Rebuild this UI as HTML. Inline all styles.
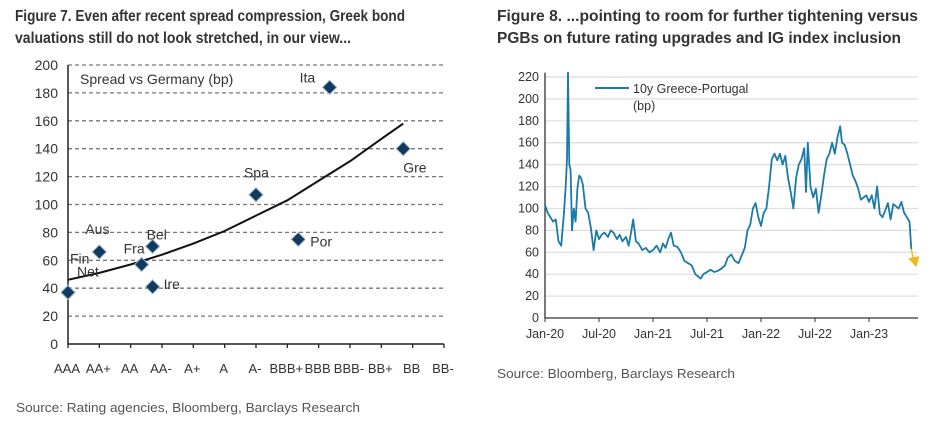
<!DOCTYPE html>
<html><head><meta charset="utf-8"><style>
body{margin:0;background:#fff;width:932px;height:426px;overflow:hidden}
svg{font-family:"Liberation Sans Narrow","Liberation Sans",sans-serif}
</style></head><body>
<svg id="s" width="932" height="426" viewBox="0 0 932 426" xmlns="http://www.w3.org/2000/svg">
<g fill="#333" font-weight="bold" font-size="16">
<text x="15" y="21" textLength="390" lengthAdjust="spacingAndGlyphs">Figure 7. Even after recent spread compression, Greek bond</text>
<text x="15" y="43" textLength="336" lengthAdjust="spacingAndGlyphs">valuations still do not look stretched, in our view...</text>
<text x="497" y="21" textLength="421" lengthAdjust="spacingAndGlyphs">Figure 8. ...pointing to room for further tightening versus</text>
<text x="497" y="43" textLength="404" lengthAdjust="spacingAndGlyphs">PGBs on future rating upgrades and IG index inclusion</text>
</g>
<g fill="#555" font-size="13">
<text x="16" y="412" textLength="344" lengthAdjust="spacingAndGlyphs">Source: Rating agencies, Bloomberg, Barclays Research</text>
<text x="497" y="378" textLength="238" lengthAdjust="spacingAndGlyphs">Source: Bloomberg, Barclays Research</text>
</g>
<g id="left"></g>
<g id="right"></g>
</svg>
<script>
const ratings=["AAA","AA+","AA","AA-","A+","A","A-","BBB+","BBB","BBB-","BB+","BB","BB-"];
const yTicksL=[0,20,40,60,80,100,120,140,160,180,200];
const countries=["Net","Fin","Aus","Fra","Bel","Ire","Spa","Por","Ita","Gre"];
const countryRating=[0,0,1,2.35,2.7,2.7,6,7.35,8.35,10.7];
const countrySpread=[37,37,66,57,70,41,107,75,184,140];
const fitX=[0,1,2,3,4,5,6,7,8,9,10,10.7];
const fitY=[46,51,57,64,72,81,92,103,117,131,147,158];
const yTicksR=[0,20,40,60,80,100,120,140,160,180,200,220];
const xLabelsR=["Jan-20","Jul-20","Jan-21","Jul-21","Jan-22","Jul-22","Jan-23"];
const months=[0,0.3,0.6,0.9,1.2,1.5,1.8,2.1,2.3,2.45,2.55,2.7,2.85,3,3.2,3.4,3.6,3.8,4,4.2,4.5,4.8,5.1,5.4,5.7,6,6.3,6.6,7,7.3,7.6,8,8.3,8.6,9,9.3,9.6,9.8,10.1,10.4,10.8,11.2,11.6,12,12.4,12.8,13.1,13.4,13.7,14,14.3,14.7,15.1,15.5,15.9,16.3,16.7,17,17.3,17.6,18,18.4,18.8,19.2,19.6,20,20.3,20.7,21.1,21.5,21.9,22.2,22.5,22.8,23.1,23.4,23.7,24,24.3,24.6,24.9,25.2,25.5,25.8,26.1,26.4,26.7,27,27.3,27.6,27.9,28.2,28.5,28.8,29,29.2,29.5,29.8,30.1,30.4,30.7,31,31.3,31.6,31.9,32.2,32.5,32.8,33,33.3,33.6,33.9,34.2,34.5,34.8,35.1,35.4,35.7,36,36.3,36.6,36.9,37.2,37.5,37.8,38.1,38.4,38.7,39,39.3,39.6,39.9,40.2,40.5,40.7];
const spreadGP=[103,96,92,88,90,70,66,95,120,145,225,140,135,80,100,88,118,130,128,122,100,96,82,62,80,72,76,78,74,80,78,72,76,70,74,66,80,90,70,68,62,64,60,62,66,60,68,64,72,78,66,65,60,52,50,48,40,38,36,40,42,44,42,43,45,48,55,58,52,50,58,64,80,85,100,105,92,84,96,100,120,145,150,144,150,140,148,128,115,100,128,140,145,155,115,160,120,110,118,96,112,130,145,150,160,150,165,175,160,158,150,140,130,125,118,108,110,112,106,112,100,120,95,92,98,105,90,104,102,100,106,96,92,88,63,58];

const NS="http://www.w3.org/2000/svg";
function mk(parent,tag,attrs,text){const e=document.createElementNS(NS,tag);for(const k in attrs)e.setAttribute(k,attrs[k]);if(text!==undefined)e.textContent=text;parent.appendChild(e);return e;}

// Left chart
const L=document.getElementById('left');
const lx0=68,lstep=31.33,ly0=344,lyk=(344-65)/200;
const lxs=i=>lx0+i*lstep, lys=v=>ly0-v*lyk;
yTicksL.forEach(v=>{
 if(v>0){const g=mk(L,'line',{x1:lx0,x2:lxs(12),y1:lys(v),y2:lys(v),stroke:'#777','stroke-dasharray':'4,3','stroke-width':1.3});
 
 }
 const t=mk(L,'text',{x:lx0-10,y:lys(v)+5,'text-anchor':'end','font-size':14,fill:'#333'},v);
 
 
});
const ax=mk(L,'path',{d:`M${lx0},${lys(200)}V${ly0}H${lxs(12)}`,stroke:'#222','stroke-width':1.5,fill:'none'});


ratings.forEach((r,i)=>{
 mk(L,'line',{x1:lxs(i),x2:lxs(i),y1:ly0,y2:ly0+4,stroke:'#222','stroke-width':1.3});
 const t=mk(L,'text',{x:lxs(i)-1,y:373,'text-anchor':'middle','font-size':13,fill:'#333'},r);
 
 
});
const lt=mk(L,'text',{x:80,y:84,'font-size':14,fill:'#333'},'Spread vs Germany (bp)');


const fit=mk(L,'path',{d:fitX.map((x,i)=>(i?'L':'M')+lxs(x)+','+lys(fitY[i])).join(''),stroke:'#111','stroke-width':2,fill:'none'});


const labOff={Net:[9,-21],Fin:[2,-34],Aus:[-14,-23],Fra:[-18,-16],Bel:[-6,-12],Ire:[11,-3],Spa:[-12,-22],Por:[12,2],Ita:[-30,-10],Gre:[0,19]};
countries.forEach((c,i)=>{
 const x=lxs(countryRating[i]),y=lys(countrySpread[i]);
 const d=mk(L,'path',{d:`M${x},${y-7}L${x+7},${y}L${x},${y+7}L${x-7},${y}Z`,fill:'#123a5e',stroke:'#9fb8d0','stroke-width':1});
 
 
 const o=labOff[c];
 const t=mk(L,'text',{x:x+o[0],y:y+o[1]+5,'font-size':14,fill:'#333'},c);
 
 
});

// Right chart
const R=document.getElementById('right');
const rx0=545,rxk=9.0,ry0=318,ryk=(318-77)/220,rx1=918;
const rxs=m=>rx0+m*rxk, rys=v=>ry0-v*ryk;
yTicksR.forEach(v=>{
 if(v>0){const g=mk(R,'line',{x1:rx0,x2:rx1,y1:rys(v),y2:rys(v),stroke:'#ddd','stroke-width':1.2});
 
 }
 const t=mk(R,'text',{x:rx0-6,y:rys(v)+4,'text-anchor':'end','font-size':12.5,fill:'#333'},v);
 
 
});
const rax=mk(R,'path',{d:`M${rx0},${rys(224)}V${ry0}H${rx1}`,stroke:'#333','stroke-width':1.3,fill:'none'});


xLabelsR.forEach((l,i)=>{
 const x=rxs(i*6);
 mk(R,'line',{x1:x,x2:x,y1:ry0,y2:ry0+4,stroke:'#333'});
 const t=mk(R,'text',{x:x,y:338,'text-anchor':'middle','font-size':12.5,fill:'#333'},l);
 
 
});
const ln=mk(R,'path',{d:months.map((m,i)=>(i?'L':'M')+rxs(m).toFixed(1)+','+rys(Math.min(spreadGP[i],224)).toFixed(1)).join(''),stroke:'#1a7aa8','stroke-width':1.8,fill:'none','stroke-linejoin':'round'});


const n=months.length-1;
const ar=mk(R,'path',{d:`M${rxs(months[n])},${rys(spreadGP[n])}L${rxs(months[n])+2},${rys(50)-4}`,stroke:'#f2b51c','stroke-width':1.3,fill:'none'});


const ah=mk(R,'path',{d:`M${rxs(months[n])-3},${rys(50)-5}L${rxs(months[n])+8},${rys(50)-7}L${rxs(months[n])+5},${rys(50)+4}Z`,fill:'#f2b51c'});


const lg=mk(R,'line',{x1:595,x2:629,y1:88,y2:88,stroke:'#1a7aa8','stroke-width':2});


const lt1=mk(R,'text',{x:633,y:93,'font-size':12.5,fill:'#333'},'10y Greece-Portugal');


const lt2=mk(R,'text',{x:633,y:110,'font-size':12.5,fill:'#333'},'(bp)');


</script>
</body></html>
